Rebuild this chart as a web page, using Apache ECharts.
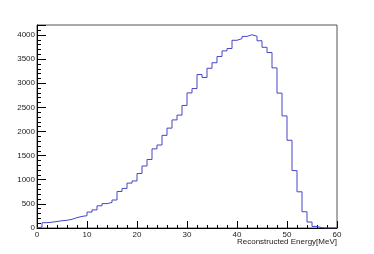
<!DOCTYPE html>
<html>
<head>
<meta charset="utf-8">
<script src="https://cdn.jsdelivr.net/npm/echarts@6/dist/echarts.min.js"></script>
<style>html,body{margin:0;padding:0;background:#fff}#c{width:374px;height:254px}</style>
</head>
<body>
<div id="c"></div>
<script>
// Bin edges: 0..60, width 1 MeV
var binLow = [];
for (var i = 0; i < 60; i++) binLow.push(i);
var counts = [20,110,120,135,150,160,180,215,240,255,
              330,375,460,505,530,580,757,820,930,975,
              1130,1285,1420,1640,1720,1920,2070,2240,2340,2540,
              2800,2890,3180,3120,3310,3425,3555,3670,3720,3890,
              3925,3970,4005,3975,3880,3745,3636,3318,2795,2323,
              1818,1190,750,337,124,33,6,0,0,0];
var xTitle = 'Reconstructed Energy[MeV]';
var yMax = 4207;

var pts = [[0, 0]];
for (var j = 0; j < binLow.length; j++) pts.push([binLow[j], counts[j]]);
pts.push([60, counts[counts.length - 1]]);

var chart = echarts.init(document.getElementById('c'), null, {renderer: 'canvas'});
var font = 'Liberation Sans, Arial, sans-serif';
chart.setOption({
  animation: false,
  backgroundColor: '#fff',
  title: {text: xTitle, right: 37, top: 238, padding: 0,
    textStyle: {fontSize: 8, fontWeight: 'normal', color: '#222', fontFamily: font}},
  grid: {left: 37, right: 37, top: 25, bottom: 26, show: true, borderColor: '#555', borderWidth: 1, backgroundColor: 'transparent'},
  xAxis: {type: 'value', min: 0, max: 60, interval: 10,
    axisLine: {show: true, onZero: false, lineStyle: {color: '#000', width: 1}},
    axisTick: {show: true, inside: true, length: 7, lineStyle: {color: '#000'}},
    minorTick: {show: true, splitNumber: 5, length: 3, lineStyle: {color: '#000'}},
    splitLine: {show: false},
    axisLabel: {fontSize: 8, color: '#222', margin: 3, fontFamily: font}},
  yAxis: [
    {type: 'value', min: 0, max: yMax, interval: 500,
      axisLine: {show: true, lineStyle: {color: '#000', width: 1}},
      axisTick: {show: true, inside: true, length: 9, lineStyle: {color: '#000'}},
      splitLine: {show: false},
      axisLabel: {fontSize: 8, color: '#222', margin: 2, fontFamily: font,
        formatter: function (v) { return v % 500 === 0 ? String(v) : ''; }}},
    {type: 'value', min: 0, max: yMax, interval: 100, position: 'left',
      axisLine: {show: false},
      axisTick: {show: true, inside: true, length: 4, lineStyle: {color: '#000'}},
      splitLine: {show: false},
      axisLabel: {show: false}}
  ],
  series: [{type: 'line', step: 'end', data: pts, symbol: 'none',
    lineStyle: {color: '#4646c8', width: 1}, z: 3}]
});
</script>
</body>
</html>
